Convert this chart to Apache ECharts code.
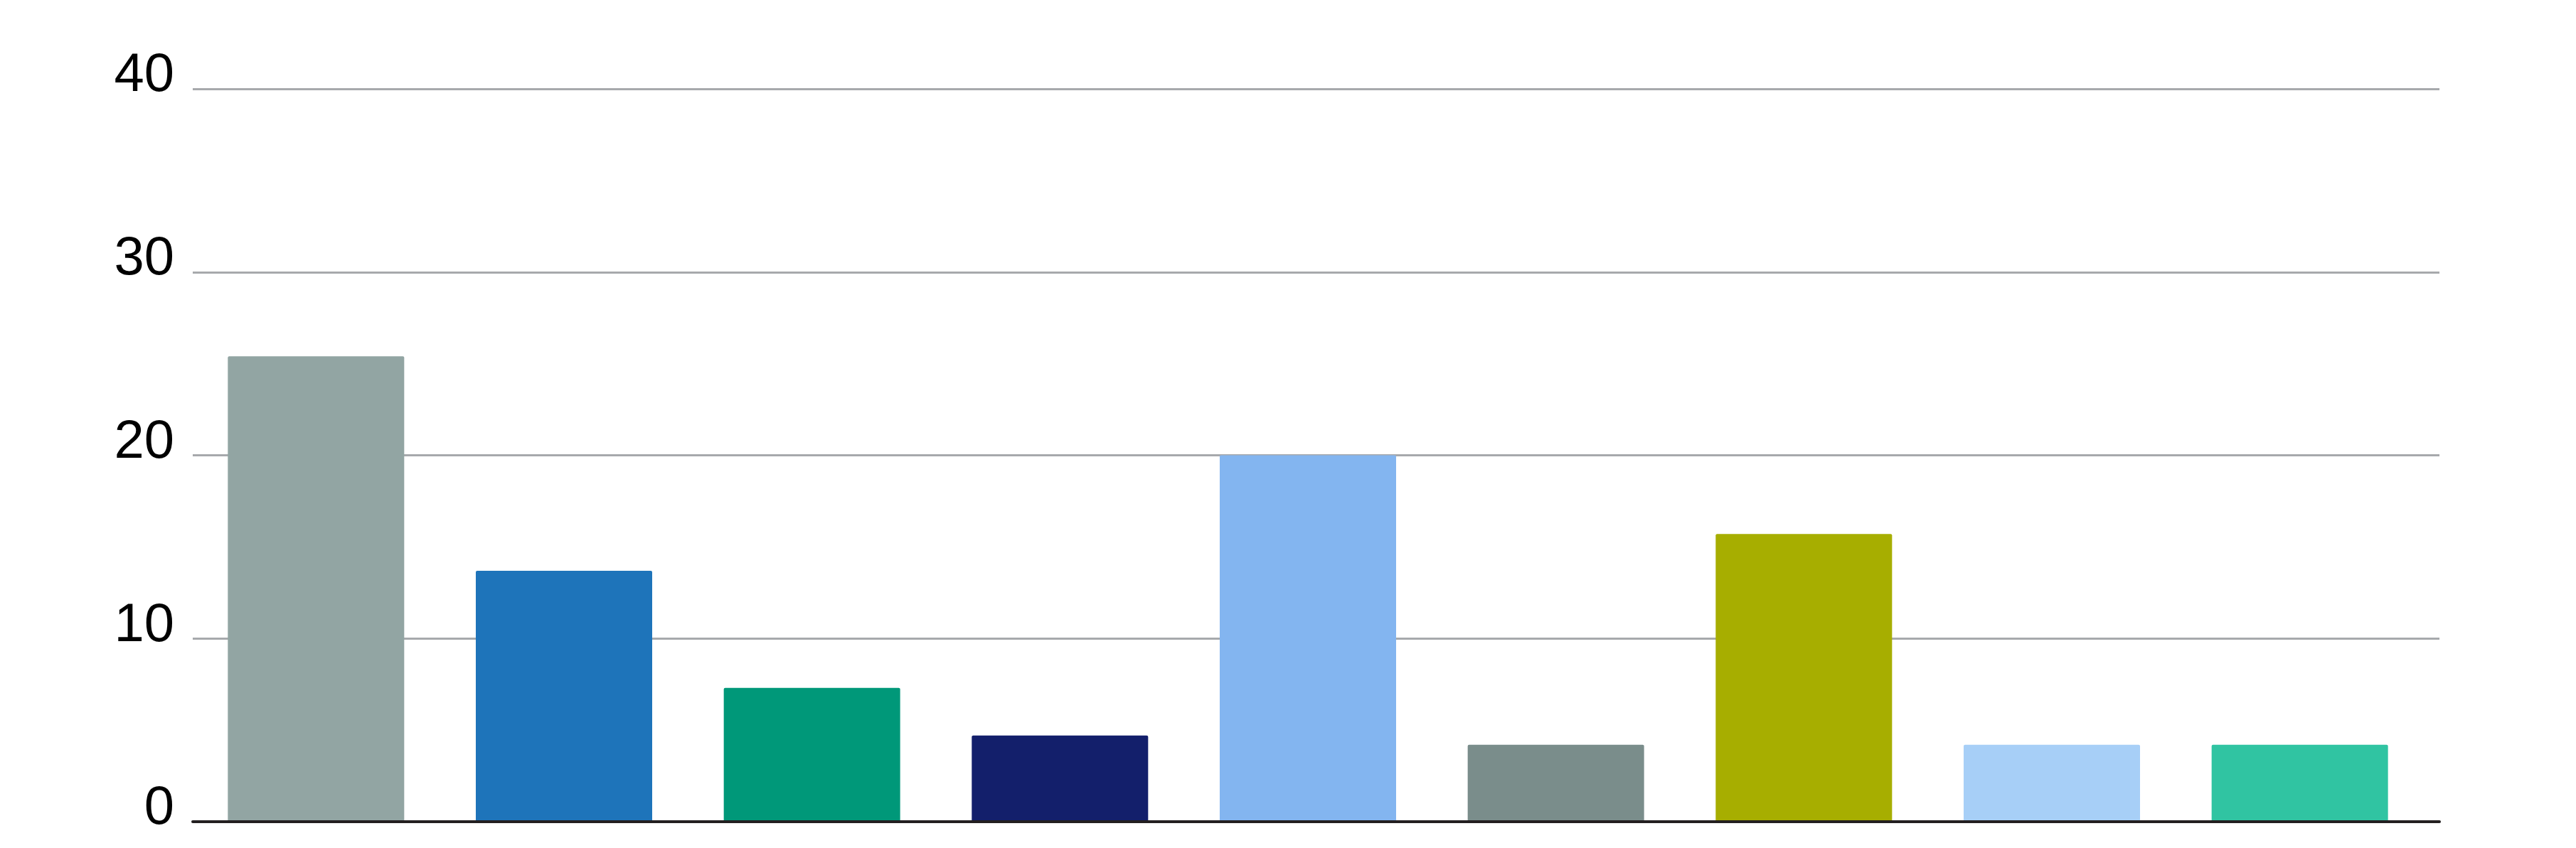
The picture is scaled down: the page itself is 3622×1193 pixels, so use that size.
<!DOCTYPE html>
<html>
<head>
<meta charset="utf-8">
<script src="https://cdn.jsdelivr.net/npm/echarts@6/dist/echarts.min.js"></script>
<style>
html,body{margin:0;padding:0;background:#fff;}
#chart{width:3622px;height:1193px;}
</style>
</head>
<body>
<div id="chart"></div>
<script>
const categories = ['A','B','C','D','E','F','G','H','I'];
const values = [25.4, 13.7, 7.3, 4.7, 20, 4.2, 15.7, 4.2, 4.2];
const barColors = ['#92a5a3','#1e74ba','#009879','#131f6b','#83b5f0','#7a8d8b','#a7ae00','#a7cff7','#30c4a2'];
const yTicks = [0, 10, 20, 30, 40];

const chart = echarts.init(document.getElementById('chart'));
chart.setOption({
  backgroundColor: '#ffffff',
  animation: false,
  grid: [
    {left: 271, right: 192, top: 125, bottom: 37},
    {left: 270, right: 214, top: 125, bottom: 37}
  ],
  xAxis: [
    {gridIndex: 0, type: 'value', min: 0, max: 1, z: 10,
     axisLine: {show: true, lineStyle: {color: '#231f20', width: 4}},
     axisTick: {show: false}, axisLabel: {show: false}, splitLine: {show: false}},
    {gridIndex: 1, type: 'category', data: categories,
     axisLine: {show: false}, axisTick: {show: false}, axisLabel: {show: false}, splitLine: {show: false}}
  ],
  yAxis: [
    {gridIndex: 0, type: 'value', min: yTicks[0], max: yTicks[yTicks.length-1], interval: 10,
     axisLine: {show: false}, axisTick: {show: false},
     splitLine: {show: true, lineStyle: {color: '#a7a9ac', width: 3}},
     axisLabel: {show: true, color: '#000000', fontSize: 76, fontFamily: 'Liberation Sans, Arial, sans-serif',
                 margin: 26, verticalAlign: 'bottom', lineHeight: 35}},
    {gridIndex: 1, type: 'value', min: yTicks[0], max: yTicks[yTicks.length-1], interval: 10, show: false}
  ],
  series: [{
    type: 'bar',
    xAxisIndex: 1, yAxisIndex: 1,
    barWidth: 248,
    data: values.map((v, i) => ({value: v, itemStyle: {color: barColors[i], borderRadius: [2,2,0,0]}}))
  }]
});
</script>
</body>
</html>
